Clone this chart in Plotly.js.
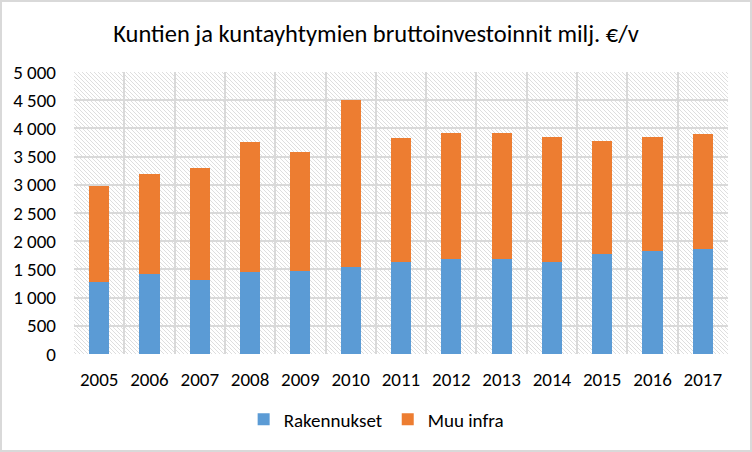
<!DOCTYPE html>
<html><head><meta charset="utf-8">
<script src="https://cdn.plot.ly/plotly-3.0.1.min.js"></script>
<style>
body{margin:0;padding:0;background:#fff;}
#wrap{position:relative;width:752px;height:452px;}
#chart{width:752px;height:452px;}
#frame{position:absolute;left:0;top:0;width:752px;height:452px;box-sizing:border-box;border:2px solid #d9d9d9;pointer-events:none;}
</style>
</head><body>
<div id="wrap"><div id="chart"></div><div id="frame"></div></div>
<script>
const years = ['2005','2006','2007','2008','2009','2010','2011','2012','2013','2014','2015','2016','2017'];
const rakennukset = [1280,1410,1310,1460,1480,1550,1640,1690,1690,1640,1780,1830,1870];
const muuInfra   = [1690,1790,1990,2300,2100,2950,2190,2230,2230,2210,2000,2020,2030];
const yTicks = [0,500,1000,1500,2000,2500,3000,3500,4000,4500,5000];
const titleText = 'Kuntien ja kuntayhtymien bruttoinvestoinnit milj. €/v';

const hatchSvg = '<svg xmlns="http://www.w3.org/2000/svg" width="654" height="282">' +
  '<defs><pattern id="h" width="4" height="4" patternUnits="userSpaceOnUse">' +
  '<path d="M-1,-1 L5,5 M-1,3 L1,5 M3,-1 L5,1" stroke="#dedede" stroke-width="1"/></pattern></defs>' +
  '<rect width="654" height="282" fill="url(#h)"/></svg>';
const hatchUri = 'data:image/svg+xml;base64,' + btoa(hatchSvg);

const font = 'Carlito, Lato, sans-serif';

const traces = [
  {type:'bar', name:'Rakennukset', x:years, y:rakennukset, marker:{color:'#5B9BD5'}},
  {type:'bar', name:'Muu infra', x:years, y:muuInfra, marker:{color:'#ED7D31'}}
];

const layout = {
  width:752, height:452,
  margin:{l:74, r:24, t:72, b:98},
  barmode:'stack', bargap:0.6,
  separators:', ',
  paper_bgcolor:'#ffffff', plot_bgcolor:'rgba(0,0,0,0)',
  font:{family:font, size:19, color:'#000'},
  title:{text:titleText, x:0.5, xanchor:'center', y:0.927, yanchor:'middle', font:{family:font, size:24.5, color:'#000'}},
  xaxis:{type:'category', tickson:'boundaries', showgrid:true, gridcolor:'#d9d9d9', gridwidth:2,
         ticks:'', showline:false, ticklabelstandoff:12, tickfont:{family:font, size:19}},
  yaxis:{range:[0,5000], tickvals:yTicks, tickformat:',d', showgrid:true, gridcolor:'#d9d9d9', gridwidth:2,
         zeroline:false, ticks:'', ticklabelstandoff:17, tickfont:{family:font, size:19}},
  legend:{orientation:'h', x:0.462, xanchor:'center', y:-0.232, yanchor:'middle', font:{family:font, size:19}, itemwidth:30, traceorder:'normal'},
  images:[{source:hatchUri, xref:'paper', yref:'paper', x:0, y:1, sizex:1, sizey:1, sizing:'stretch', layer:'below', xanchor:'left', yanchor:'top'}],
  showlegend:true
};

Plotly.newPlot('chart', traces, layout, {displayModeBar:false, staticPlot:true});
</script>
</body></html>
